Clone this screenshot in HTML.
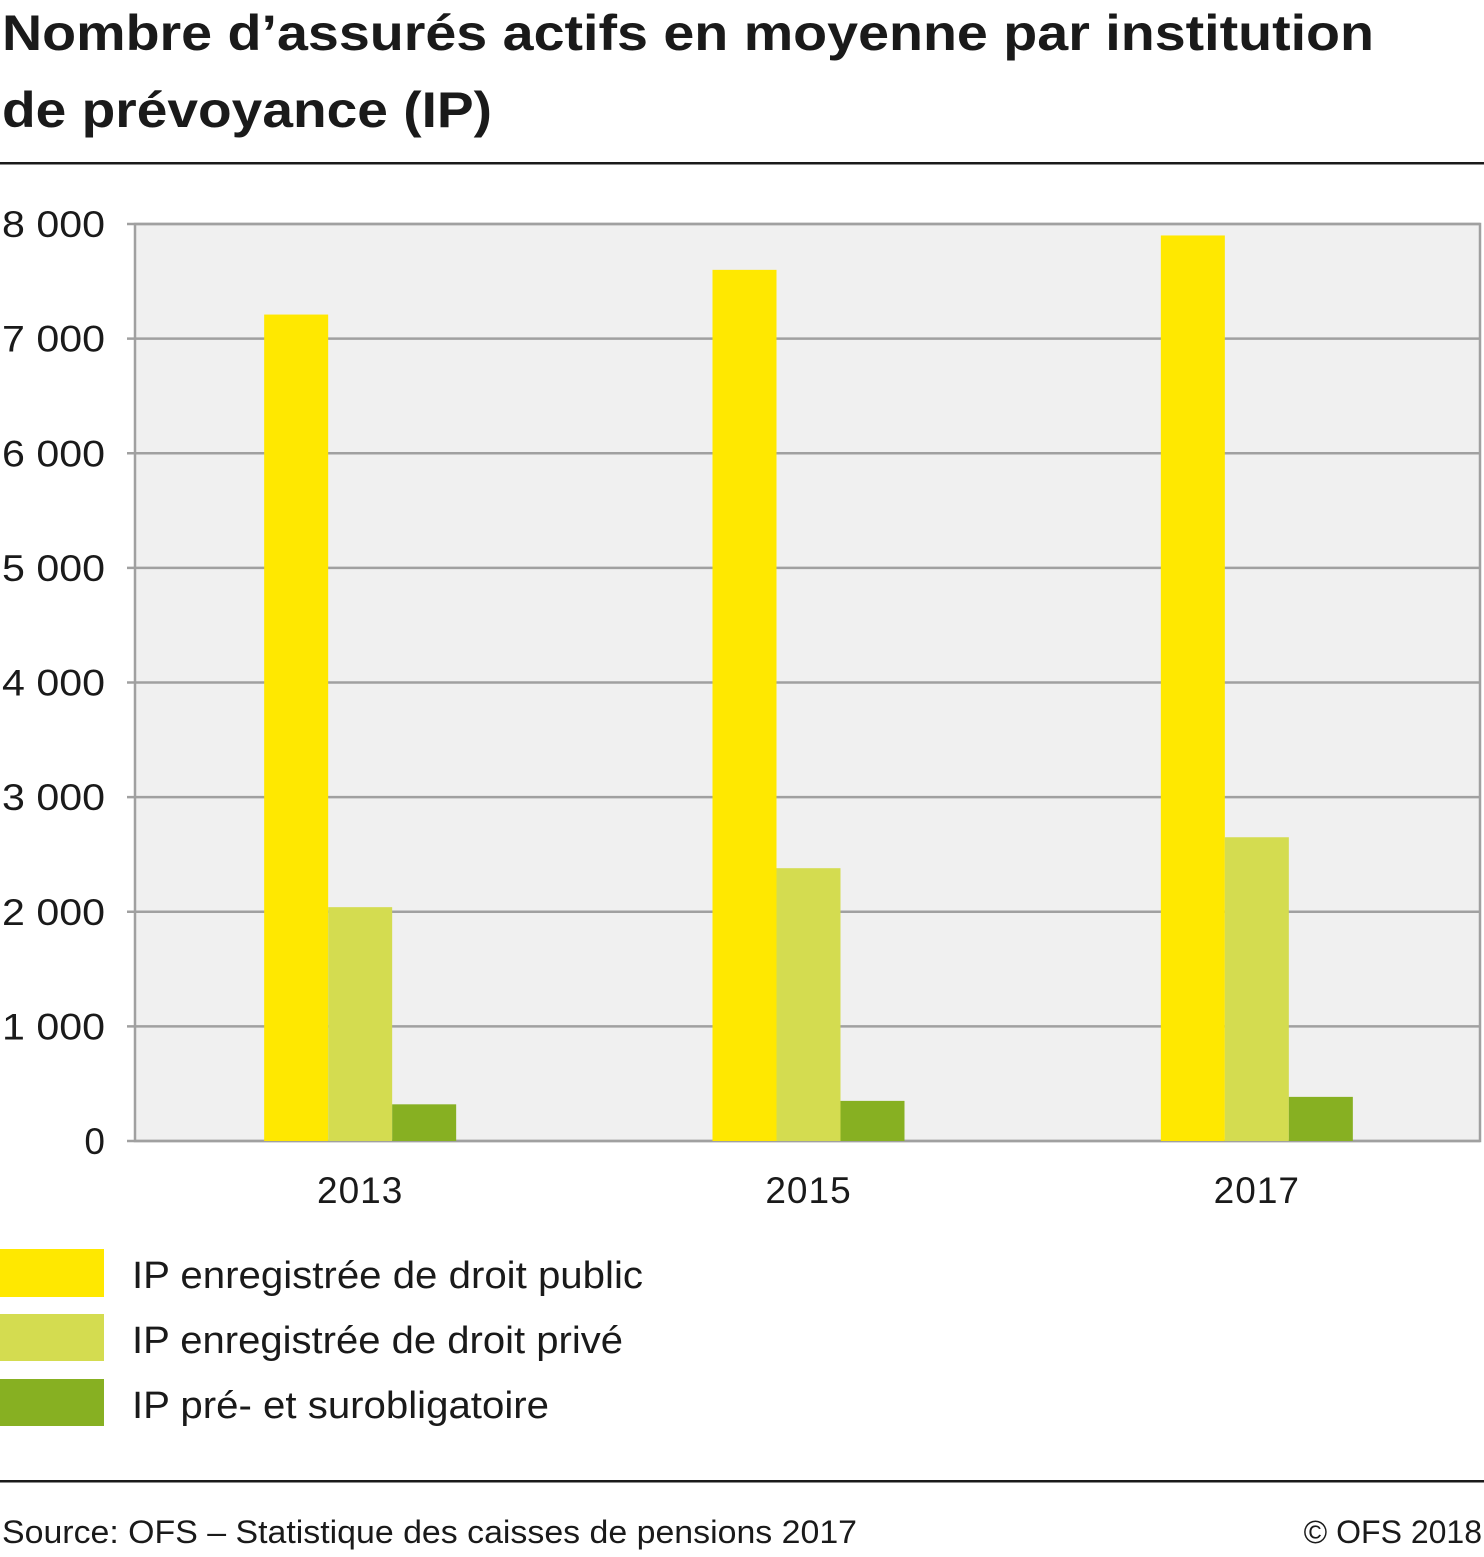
<!DOCTYPE html>
<html><head><meta charset="utf-8"><style>
body{margin:0;background:#fff;width:1484px;height:1552px;overflow:hidden;font-family:"Liberation Sans",sans-serif;color:#1a1a1a}
</style></head><body>
<svg width="1484" height="1552" xmlns="http://www.w3.org/2000/svg">
<text x="2" y="50" font-size="50" font-weight="bold" fill="#1a1a1a" textLength="1372" lengthAdjust="spacingAndGlyphs">Nombre d’assurés actifs en moyenne par institution</text>
<text x="2" y="127" font-size="50" font-weight="bold" fill="#1a1a1a" textLength="490" lengthAdjust="spacingAndGlyphs">de prévoyance (IP)</text>
<rect x="0" y="162" width="1484" height="2.5" fill="#1a1a1a"/>
<rect x="135" y="224" width="1345" height="917" fill="#f0f0f0" stroke="#a0a0a0" stroke-width="2.5"/>
<g id="grid"></g>
<g id="bars"></g>
<g id="xlabels"></g>
<g>
<rect x="0" y="1249" width="104" height="48" fill="#ffe800"/>
<text x="132" y="1288" font-size="38" fill="#1a1a1a" textLength="511" lengthAdjust="spacingAndGlyphs">IP enregistrée de droit public</text>
<rect x="0" y="1314" width="104" height="47" fill="#d4dc50"/>
<text x="132" y="1353" font-size="38" fill="#1a1a1a" textLength="491" lengthAdjust="spacingAndGlyphs">IP enregistrée de droit privé</text>
<rect x="0" y="1379" width="104" height="47" fill="#87b022"/>
<text x="132" y="1418" font-size="38" fill="#1a1a1a" textLength="417" lengthAdjust="spacingAndGlyphs">IP pré- et surobligatoire</text>
</g>
<rect x="0" y="1480" width="1484" height="2.5" fill="#1a1a1a"/>
<text x="2" y="1543" font-size="32" fill="#1a1a1a" textLength="855" lengthAdjust="spacingAndGlyphs">Source: OFS – Statistique des caisses de pensions 2017</text>
<text x="1482" y="1543" font-size="32" fill="#1a1a1a" text-anchor="end">© OFS 2018</text>
</svg>
<script>
const categories=["2013","2015","2017"];
const publicVals=[7210,7600,7900];
const privateVals=[2040,2380,2650];
const preSurVals=[320,350,385];
const yTicks=[0,1000,2000,3000,4000,5000,6000,7000,8000];
const yTickLabels=["0","1 000","2 000","3 000","4 000","5 000","6 000","7 000","8 000"];
const NS="http://www.w3.org/2000/svg";
const x0=135,x1=1480,yTop=224,yBot=1141,yMax=8000;
function y(v){return yBot-(v/yMax)*(yBot-yTop);}
function band(i){return x0+(x1-x0)/categories.length*(i+0.5);}
function mk(tag,attrs,parent){const e=document.createElementNS(NS,tag);for(const k in attrs)e.setAttribute(k,attrs[k]);parent.appendChild(e);return e;}
const grid=document.getElementById('grid');
yTicks.forEach((t,i)=>{
  const l=mk('line',{x1:127,x2:x1,y1:y(t),y2:y(t),stroke:'#a0a0a0','stroke-width':2.5},grid);
  
  
  const attrs={x:105,y:y(t)+13,'font-size':37,'text-anchor':'end',fill:'#1a1a1a'};
  if(yTickLabels[i].length>1){attrs.textLength=103;attrs.lengthAdjust='spacingAndGlyphs';}
  const tx=mk('text',attrs,grid);
  tx.textContent=yTickLabels[i];
  
  
});
const bars=document.getElementById('bars');
const series=[[publicVals,'#ffe800','public'],[privateVals,'#d4dc50','private'],[preSurVals,'#87b022','pre-sur']];
const bw=64;
categories.forEach((c,i)=>{
  const cx=band(i);
  series.forEach((s,j)=>{
    const v=s[0][i];
    const r=mk('rect',{x:cx-95+j*bw,y:y(v),width:bw,height:yBot-y(v),fill:s[1]},bars);
    
    
  });
  const t=mk('text',{x:cx+1,y:1203,'font-size':37,'text-anchor':'middle',fill:'#1a1a1a','letter-spacing':'1'},document.getElementById('xlabels'));
  t.textContent=c;
  
  
});
</script>
</body></html>
